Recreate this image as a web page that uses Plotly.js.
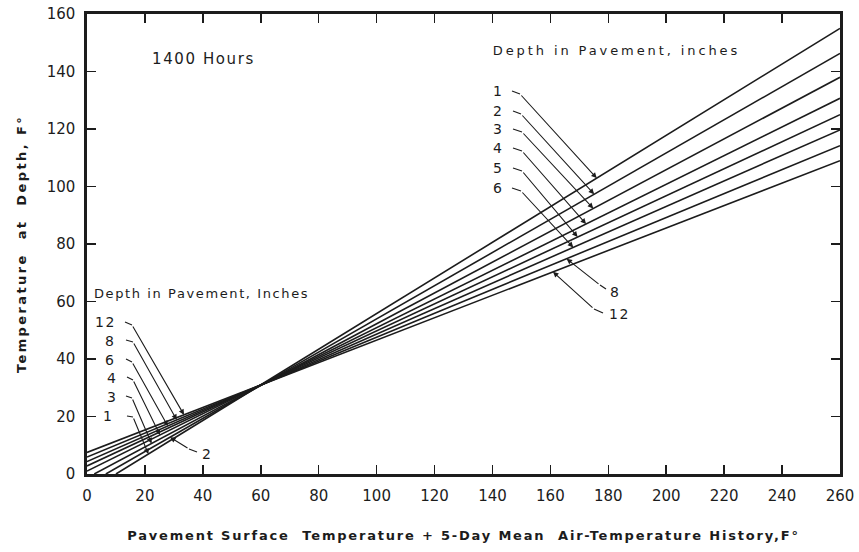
<!DOCTYPE html>
<html>
<head>
<meta charset="utf-8">
<script src="https://cdn.plot.ly/plotly-3.0.1.min.js"></script>
<style>
  html, body { margin: 0; padding: 0; background: #fff; }
  #chart { width: 859px; height: 552px; }
  .annotation-text { letter-spacing: 1.6px; }
  .xtitle { letter-spacing: 1.8px; }
  .ytitle { letter-spacing: 2.4px; }
</style>
</head>
<body>
<div id="chart"></div>
<script>
// ---- data ----
const depths = ['1', '2', '3', '4', '5', '6', '8', '12'];
// start of each line (where it leaves the axes at the lower left)
const xStart = [10, 6.5, 2.5, 0, 0, 0, 0, 0];
const yStart = [0, 0, 0, 1, 2.8, 4.3, 5.9, 7.5];
// end of each line at the right edge
const xEnd = [260, 260, 260, 260, 260, 260, 260, 260];
const yEnd = [155, 146.3, 138, 130.7, 125, 119.7, 114.2, 109];
const xTicks = [0, 20, 40, 60, 80, 100, 120, 140, 160, 180, 200, 220, 240, 260];
const yTicks = [0, 20, 40, 60, 80, 100, 120, 140, 160];

// ---- geometry of the frame (pixels) ----
const L = 87, R = 840, T = 14, B = 474, W = 859, H = 552;
const px = p => (p - L) / (R - L);          // pixel -> paper x
const py = p => (B - p) / (B - T);          // pixel -> paper y
const dx = p => (p - L) / (R - L) * 260;    // pixel -> data x
const dy = p => (B - p) / (B - T) * 160;    // pixel -> data y
const lineY = (i, x) => yStart[i] + (yEnd[i] - yStart[i]) * (x - xStart[i]) / (xEnd[i] - xStart[i]);

const ink = '#1c1c1c';
const traces = depths.map((d, i) => ({
  x: [xStart[i], xEnd[i]],
  y: [yStart[i], yEnd[i]],
  mode: 'lines',
  name: d + ' in',
  line: { color: ink, width: 1.6 },
  hoverinfo: 'skip',
  showlegend: false
}));

// leader lines: label position, start of leader, bend, tip x (data)
const leaders = [
  { d: '1',  lx: 499, ly: 91,  anchor: 'center', s: [512, 91],  b: [520, 94],  tx: 176.0 },
  { d: '2',  lx: 499, ly: 111, anchor: 'center', s: [513, 111], b: [521, 114], tx: 175.1 },
  { d: '3',  lx: 499, ly: 129, anchor: 'center', s: [513, 129], b: [522, 132], tx: 174.8 },
  { d: '4',  lx: 499, ly: 148, anchor: 'center', s: [513, 148], b: [522, 151], tx: 172.3 },
  { d: '5',  lx: 499, ly: 168, anchor: 'center', s: [513, 168], b: [522, 171], tx: 169.4 },
  { d: '6',  lx: 499, ly: 188, anchor: 'center', s: [512, 188], b: [521, 191], tx: 167.9 },
  { d: '8',  lx: 608, ly: 292, anchor: 'left',   s: [606, 289], b: [600, 285], tx: 165.6 },
  { d: '12', lx: 607, ly: 314, anchor: 'left',   s: [603, 313], b: [594, 309], tx: 160.9 },
  { d: '12', lx: 118, ly: 322, anchor: 'right',  s: [125, 322], b: [132, 325], tx: 33.5 },
  { d: '8',  lx: 118, ly: 341, anchor: 'right',  s: [126, 340], b: [133, 342], tx: 31.0 },
  { d: '6',  lx: 118, ly: 360, anchor: 'right',  s: [126, 359], b: [132, 362], tx: 27.9 },
  { d: '4',  lx: 120, ly: 378, anchor: 'right',  s: [127, 377], b: [133, 380], tx: 25.2 },
  { d: '3',  lx: 120, ly: 397, anchor: 'right',  s: [126, 396], b: [132, 398], tx: 22.3 },
  { d: '1',  lx: 116, ly: 416, anchor: 'right',  s: [127, 416], b: [133, 417], tx: 21.2 },
  { d: '2',  lx: 200, ly: 454, anchor: 'left',   s: [197, 452], b: [189, 449], tx: 28.7 }
];

const annFont = { family: 'DejaVu Sans, sans-serif', size: 14, color: ink };
const annotations = [];
const shapes = [];
leaders.forEach(o => {
  const i = depths.indexOf(o.d);
  annotations.push({
    xref: 'paper', yref: 'paper', x: px(o.lx), y: py(o.ly),
    text: o.d, showarrow: false, xanchor: o.anchor, yanchor: 'middle', font: annFont
  });
  shapes.push({
    type: 'path', xref: 'x', yref: 'y',
    path: `M ${dx(o.s[0])} ${dy(o.s[1])} L ${dx(o.b[0])} ${dy(o.b[1])}`,
    line: { color: ink, width: 1.1 }
  });
  annotations.push({
    xref: 'x', yref: 'y', axref: 'x', ayref: 'y',
    x: o.tx, y: lineY(i, o.tx), ax: dx(o.b[0]), ay: dy(o.b[1]),
    text: '', showarrow: true, arrowhead: 2, arrowsize: 1, arrowwidth: 1.1,
    arrowcolor: ink, standoff: 0, startstandoff: 0
  });
});

annotations.push(
  { xref: 'paper', yref: 'paper', x: px(203), y: py(59), text: '1400 Hours',
    showarrow: false, xanchor: 'center', yanchor: 'middle',
    font: { family: 'DejaVu Sans, sans-serif', size: 15, color: ink } },
  { xref: 'paper', yref: 'paper', x: px(507), y: py(50), text: 'Depth in Pavement, inches',
    showarrow: false, xanchor: 'left', yanchor: 'middle',
    font: { family: 'DejaVu Sans, sans-serif', size: 13, color: ink } },
  { xref: 'paper', yref: 'paper', x: px(92), y: py(293), text: 'Depth in Pavement, Inches',
    showarrow: false, xanchor: 'left', yanchor: 'middle',
    font: { family: 'DejaVu Sans, sans-serif', size: 13, color: ink } }
);

const axisCommon = {
  showgrid: false, zeroline: false,
  showline: true, linecolor: ink, linewidth: 2.6, mirror: 'ticks',
  ticks: 'inside', ticklen: 9, tickwidth: 1.6, tickcolor: ink,
  tickfont: { family: 'DejaVu Sans, sans-serif', size: 15, color: ink },
  fixedrange: true
};

const layout = {
  width: W, height: H,
  margin: { l: L, r: W - R, t: T, b: H - B, pad: 0 },
  paper_bgcolor: '#fff', plot_bgcolor: '#fff',
  showlegend: false,
  xaxis: Object.assign({}, axisCommon, {
    range: [0, 260], tickmode: 'array', tickvals: xTicks, ticktext: xTicks.map(String),
    ticklabelstandoff: 6,
    title: { text: 'Pavement Surface  Temperature + 5-Day Mean  Air-Temperature History,F°',
             font: { family: 'DejaVu Sans, sans-serif', size: 13, color: ink, weight: 'bold' },
             standoff: 28 }
  }),
  yaxis: Object.assign({}, axisCommon, {
    range: [0, 160], tickmode: 'array', tickvals: yTicks, ticktext: yTicks.map(String),
    ticklabelstandoff: 6,
    title: { text: 'Temperature  at  Depth, F°',
             font: { family: 'DejaVu Sans, sans-serif', size: 13, color: ink, weight: 'bold' },
             standoff: 18 }
  }),
  annotations: annotations,
  shapes: shapes
};

Plotly.newPlot('chart', traces, layout, { staticPlot: true, displayModeBar: false }).then(gd => {
  // the upper legend heading is set more widely spaced than the lower one
  gd.querySelectorAll('.annotation-text').forEach(t => {
    if (t.textContent === 'Depth in Pavement, inches') t.style.letterSpacing = '2.9px';
  });
});
</script>
</body>
</html>
